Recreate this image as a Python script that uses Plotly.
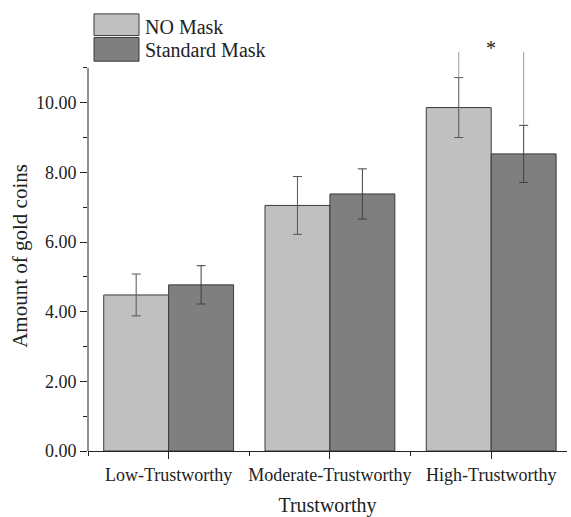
import plotly.graph_objects as go

# ---- data ----
categories = ["Low-Trustworthy", "Moderate-Trustworthy", "High-Trustworthy"]
no_mask = [4.48, 7.05, 9.86]
no_mask_err = [0.60, 0.83, 0.86]
std_mask = [4.77, 7.38, 8.53]
std_mask_err = [0.55, 0.72, 0.82]
# extra whisker tops (drawn above the upper cap, only for High-Trustworthy)
no_mask_ext = [None, None, 11.45]
std_mask_ext = [None, None, 11.45]
y_ticks = [0, 2, 4, 6, 8, 10]
y_axis_max = 11
sig_label = "*"
sig_value = 11.57
y_title = "Amount of gold coins"
x_title = "Trustworthy"

# ---- layout constants ----
W, H = 571, 517
L, R, T, B = 88, 4, 40, 60
Y_TOP = 11.8
FONT = "Liberation Serif, Times New Roman, serif"
bar_w = 0.4025
xs = list(range(len(categories)))

fig = go.Figure()

def add_series(name, vals, errs, ext, offset, color, errcolor):
    fig.add_trace(go.Bar(
        x=[i + offset for i in xs], y=vals, width=bar_w, name=name,
        marker=dict(color=color, line=dict(color="#3a3a3a", width=1)),
        error_y=dict(type="data", array=errs, visible=True,
                     color=errcolor, thickness=1, width=4.5),
        showlegend=False,
    ))
    base = [v + e for v, e in zip(vals, errs)]
    plus = [(t - b) if t is not None else 0 for t, b in zip(ext, base)]
    fig.add_trace(go.Scatter(
        x=[i + offset for i in xs], y=base, mode="markers",
        marker=dict(size=1, opacity=0),
        error_y=dict(type="data", symmetric=False, array=plus,
                     arrayminus=[0] * len(plus), color="#9a9a9a",
                     thickness=1, width=0),
        cliponaxis=False, showlegend=False, hoverinfo="skip",
    ))

add_series("NO Mask", no_mask, no_mask_err, no_mask_ext, -bar_w / 2, "#c0c0c0", "#555555")
add_series("Standard Mask", std_mask, std_mask_err, std_mask_ext, bar_w / 2, "#7f7f7f", "#404040")

# significance marker
fig.add_annotation(x=xs[2], y=sig_value, text=sig_label, showarrow=False,
                   font=dict(size=20, color="#222"), yanchor="middle")

# y axis line only up to y_axis_max
fig.add_shape(type="line", xref="paper", yref="y", x0=0, x1=0, y0=0, y1=y_axis_max,
              line=dict(color="#222", width=1))

# pixel helpers
pw, ph = W - L - R, H - T - B
def px2x(px): return (px - L) / pw
def py2y(py): return (H - B - py) / ph

# y axis title (centred on the drawn axis line)
fig.add_annotation(xref="paper", yref="paper", x=px2x(20), y=py2y(259),
                   text=y_title, textangle=-90, showarrow=False,
                   xanchor="center", yanchor="middle",
                   font=dict(size=21, color="#222", family=FONT))

# legend drawn as boxes + text
leg = [("NO Mask", "#c0c0c0", 13.5, 35.5, 27), ("Standard Mask", "#7f7f7f", 37.5, 61.5, 50)]
for name, col, y0, y1, yc in leg:
    fig.add_shape(type="rect", xref="paper", yref="paper",
                  x0=px2x(94), x1=px2x(139), y0=py2y(y1), y1=py2y(y0),
                  fillcolor=col, line=dict(color="#3a3a3a", width=1))
    fig.add_annotation(xref="paper", yref="paper", x=px2x(143), y=py2y(yc),
                       text=name, showarrow=False, xanchor="left", yanchor="middle",
                       font=dict(size=20, color="#222", family=FONT))

fig.update_layout(
    width=W, height=H, margin=dict(l=L, r=R, t=T, b=B),
    plot_bgcolor="white", paper_bgcolor="white",
    font=dict(family=FONT, color="#222", size=18),
    barmode="overlay", showlegend=False,
    xaxis=dict(
        range=[-0.5, 2.47], tickmode="array", tickvals=xs, ticktext=categories,
        showline=True, linecolor="#222", linewidth=1, ticks="outside",
        ticklen=7, tickcolor="#222", showgrid=False, zeroline=False,
        tickfont=dict(size=18),
        minor=dict(tickmode="array", tickvals=[-0.5, 0.5, 1.5], ticks="outside",
                   ticklen=4, tickcolor="#222"),
        title=dict(text=x_title, font=dict(size=20), standoff=14),
    ),
    yaxis=dict(
        range=[0, Y_TOP], tickmode="array", tickvals=y_ticks, tickformat=".2f",
        showline=False, ticks="outside",
        ticklen=7, tickcolor="#222", showgrid=False, zeroline=False,
        tickfont=dict(size=18),
        minor=dict(tickmode="linear", tick0=1, dtick=2, ticks="outside",
                   ticklen=4, tickcolor="#222"),
    ),
)

fig.write_html("out.html")
